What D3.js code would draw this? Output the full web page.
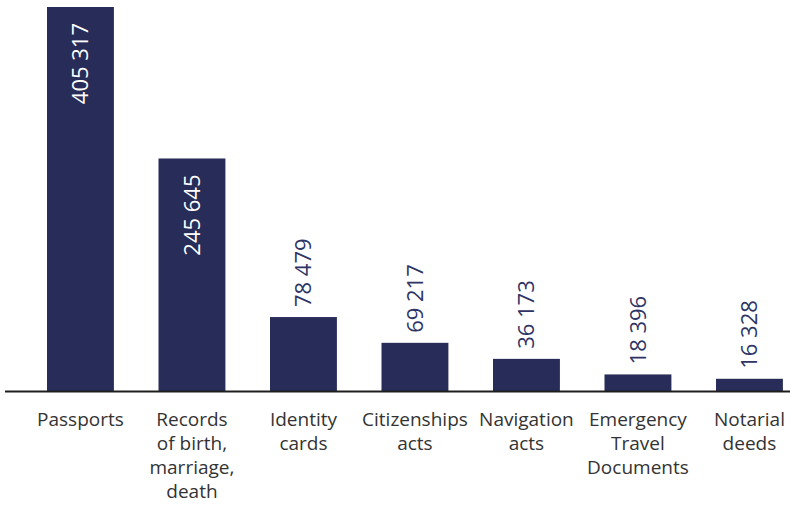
<!DOCTYPE html>
<html>
<head>
<meta charset="utf-8">
<script src="https://cdn.jsdelivr.net/npm/d3@7"></script>
<style>
  body { margin: 0; background: #fff; }
  svg { display: block; font-family: "Open Sans", "Noto Sans", sans-serif; }
</style>
</head>
<body>
<svg id="chart" width="790" height="509"></svg>
<script>
const categories = ["Passports", "Records of birth, marriage, death", "Identity cards",
  "Citizenships acts", "Navigation acts", "Emergency Travel Documents", "Notarial deeds"];
const labelLines = [
  ["Passports"],
  ["Records", "of birth,", "marriage,", "death"],
  ["Identity", "cards"],
  ["Citizenships", "acts"],
  ["Navigation", "acts"],
  ["Emergency", "Travel", "Documents"],
  ["Notarial", "deeds"]
];
// bar heights as drawn in the picture (some differ from their printed labels)
const values = [405317, 245645, 78479, 51300, 34400, 18000, 13400];
const valueText = ["405 317", "245 645", "78 479", "69 217", "36 173", "18 396", "16 328"];

const svg = d3.select("#chart");
const baseY = 391.5;
const barColor = "#272c59";

const x = d3.scaleBand()
  .domain(categories)
  .range([2.4, 827.5])
  .paddingInner(0.4)
  .paddingOuter(0.4);

const y = d3.scaleLinear()
  .domain([0, 405317])
  .range([baseY, 7]);

// bars
svg.selectAll("rect.bar")
  .data(values)
  .join("rect")
  .attr("class", "bar")
  .attr("x", (d, i) => x(categories[i]))
  .attr("y", d => y(d))
  .attr("width", x.bandwidth())
  .attr("height", d => baseY - y(d))
  .attr("fill", barColor);

// baseline
svg.append("line")
  .attr("x1", 5).attr("x2", 790)
  .attr("y1", baseY).attr("y2", baseY)
  .attr("stroke", "#1e1e1e")
  .attr("stroke-width", 2);

// value labels, big bars hold them inside
const inside = d => baseY - y(d) > 150;
svg.selectAll("text.val")
  .data(values)
  .join("text")
  .attr("class", "val")
  .attr("transform", (d, i) => {
    const cx = x(categories[i]) + x.bandwidth() / 2 + 8;
    const ty = inside(d) ? y(d) + 16 : y(d) - 10;
    return `translate(${cx},${ty}) rotate(-90)`;
  })
  .attr("text-anchor", d => inside(d) ? "end" : "start")
  .style("font-size", "22px")
  .style("fill", d => inside(d) ? "#ffffff" : "#2e3566")
  .text((d, i) => valueText[i]);

// category labels
const cat = svg.selectAll("text.cat")
  .data(labelLines)
  .join("text")
  .attr("class", "cat")
  .attr("text-anchor", "middle")
  .style("font-size", "19px")
  .style("fill", "#333");

cat.selectAll("tspan")
  .data((lines, i) => lines.map(l => ({ l, i })))
  .join("tspan")
  .attr("x", d => x(categories[d.i]) + x.bandwidth() / 2)
  .attr("y", (d, j) => 425.5 + j * 24.3)
  .text(d => d.l);
</script>
</body>
</html>
